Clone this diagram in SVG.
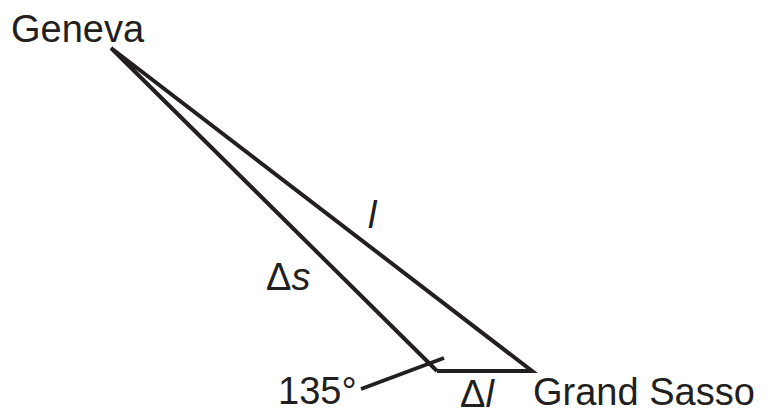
<svg xmlns="http://www.w3.org/2000/svg" width="775" height="416" viewBox="0 0 775 416">
<style>
.ln{stroke:#231f20;stroke-width:4;fill:none;stroke-linejoin:miter;stroke-linecap:butt}
.t{font-family:"Liberation Sans",Arial,sans-serif;font-size:38px;fill:#231f20}
.i{font-style:italic}
</style>
<rect width="775" height="416" fill="#fff"/>
<g id="connectors">
<polyline class="ln" points="437,371 111,48 532,371 437,371"/>
<line class="ln" x1="361" y1="389" x2="444" y2="358"/>
</g>
<g id="geneva"><text class="t" x="11" y="42">Geneva</text></g>
<g id="grandsasso"><text class="t" x="533" y="405">Grand Sasso</text></g>
<g id="angle"><text class="t" x="278" y="404">135°</text></g>
<g id="l"><text class="t i" x="368" y="228">l</text></g>
<g id="ds"><text class="t" x="266" y="290">Δ<tspan class="i">s</tspan></text></g>
<g id="dl"><text class="t" x="460" y="407">Δ<tspan class="i">l</tspan></text></g>
</svg>
